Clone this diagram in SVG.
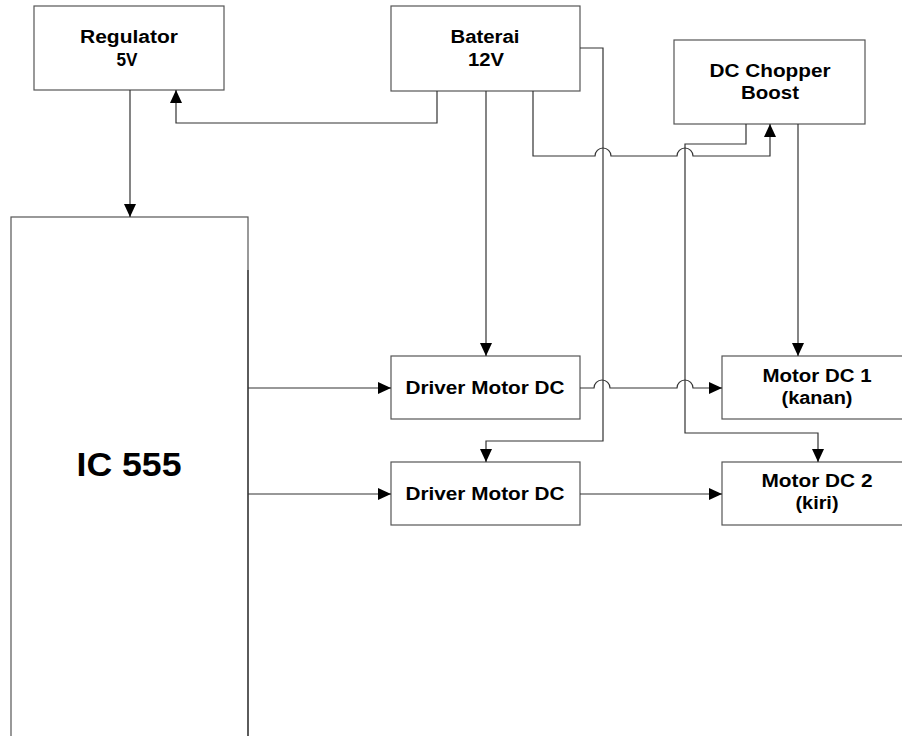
<svg xmlns="http://www.w3.org/2000/svg" width="902" height="736" viewBox="0 0 902 736">
<style>
.box{fill:#fff;stroke:#555;stroke-width:1.2}
.ln{fill:none;stroke:#333;stroke-width:1.2}
.t{font-family:"Liberation Sans",Arial,sans-serif;font-weight:bold;font-size:17.5px;fill:#000;text-anchor:middle}
.big{font-family:"Liberation Sans",Arial,sans-serif;font-weight:bold;font-size:33px;fill:#000;text-anchor:middle}
</style>
<defs>
<marker id="ah" markerUnits="userSpaceOnUse" markerWidth="14" markerHeight="13" refX="13" refY="6" orient="auto">
<path d="M0,0 L13,6 L0,12 z" fill="#000"/>
</marker>
</defs>
<rect width="902" height="736" fill="#fff"/>
<g id="regulator">
<rect class="box" x="34" y="6" width="190" height="84"/>
<text class="t" x="129" y="43" textLength="98" lengthAdjust="spacingAndGlyphs">Regulator</text>
<text class="t" x="127" y="66" textLength="21" lengthAdjust="spacingAndGlyphs">5V</text>
</g>
<g id="baterai">
<rect class="box" x="391" y="6" width="189" height="85"/>
<text class="t" x="485" y="43" textLength="69" lengthAdjust="spacingAndGlyphs">Baterai</text>
<text class="t" x="486" y="66" textLength="36" lengthAdjust="spacingAndGlyphs">12V</text>
</g>
<g id="chopper">
<rect class="box" x="674" y="40" width="191" height="84"/>
<text class="t" x="770" y="77" textLength="121" lengthAdjust="spacingAndGlyphs">DC Chopper</text>
<text class="t" x="770" y="99" textLength="58" lengthAdjust="spacingAndGlyphs">Boost</text>
</g>
<g id="ic555">
<rect class="box" x="11" y="217" width="237" height="540"/>
<text class="big" x="129" y="476" textLength="105" lengthAdjust="spacingAndGlyphs">IC 555</text>
</g>
<g id="driver1">
<rect class="box" x="391" y="356" width="189" height="63"/>
<text class="t" x="485" y="394" textLength="159" lengthAdjust="spacingAndGlyphs">Driver Motor DC</text>
</g>
<g id="driver2">
<rect class="box" x="391" y="462" width="189" height="63"/>
<text class="t" x="485" y="500" textLength="159" lengthAdjust="spacingAndGlyphs">Driver Motor DC</text>
</g>
<g id="motor1">
<rect class="box" x="722" y="356" width="190" height="63"/>
<text class="t" x="817" y="382" textLength="109" lengthAdjust="spacingAndGlyphs">Motor DC 1</text>
<text class="t" x="817" y="404" textLength="71" lengthAdjust="spacingAndGlyphs">(kanan)</text>
</g>
<g id="motor2">
<rect class="box" x="722" y="462" width="190" height="63"/>
<text class="t" x="817" y="487" textLength="111" lengthAdjust="spacingAndGlyphs">Motor DC 2</text>
<text class="t" x="817" y="509" textLength="43" lengthAdjust="spacingAndGlyphs">(kiri)</text>
</g>
<g id="connectors">
<path class="ln" d="M248,270 V736" stroke-width="1.6"/>
<path class="ln" d="M130,90 V217" marker-end="url(#ah)"/>
<path class="ln" d="M437,91 V123 H176 V90" marker-end="url(#ah)"/>
<path class="ln" d="M486,91 V356" marker-end="url(#ah)"/>
<path class="ln" d="M533,91 V156 H595 A8,8 0 0 1 611,156 H677 A8,8 0 0 1 693,156 H770 V124" marker-end="url(#ah)"/>
<path class="ln" d="M580,48 H603 V441 H486 V462" marker-end="url(#ah)"/>
<path class="ln" d="M746,124 V144 H685 V433 H818 V462" marker-end="url(#ah)"/>
<path class="ln" d="M798,124 V356" marker-end="url(#ah)"/>
<path class="ln" d="M248,388 H391" marker-end="url(#ah)"/>
<path class="ln" d="M248,494 H391" marker-end="url(#ah)"/>
<path class="ln" d="M580,388 H594 A8,8 0 0 1 610,388 H677 A8,8 0 0 1 693,388 H722" marker-end="url(#ah)"/>
<path class="ln" d="M580,494 H722" marker-end="url(#ah)"/>
</g>
</svg>
